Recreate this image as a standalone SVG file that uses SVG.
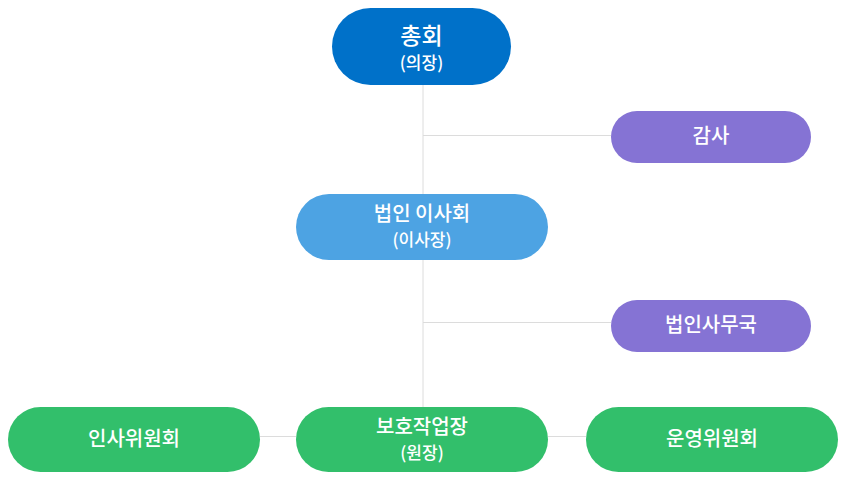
<svg xmlns="http://www.w3.org/2000/svg" width="847" height="489" viewBox="0 0 847 489">
<style>
.ln{stroke:#DCDCDC;stroke-width:1;fill:none}
text{font-family:"Noto Sans CJK KR","Noto Sans",sans-serif;fill:#fff;text-anchor:middle;font-weight:500}
.t{font-size:20px}
.s{font-size:17px}
.blue{fill:#0071C9}
.lblue{fill:#4DA3E3}
.purple{fill:#8573D4}
.green{fill:#32BF6B}
</style>
<rect width="847" height="489" fill="#fff"/>
<g id="connectors">
<line class="ln" x1="423" y1="85" x2="423" y2="407"/>
<line class="ln" x1="423" y1="135.5" x2="611" y2="135.5"/>
<line class="ln" x1="423" y1="322.5" x2="611" y2="322.5"/>
<line class="ln" x1="260" y1="436.5" x2="296" y2="436.5"/>
<line class="ln" x1="548" y1="436.5" x2="586" y2="436.5"/>
</g>
<g id="general">
<rect class="blue" x="332" y="8" width="179" height="77" rx="38.5"/>
<text x="421.5" y="43.5" style="font-size:23px">총회</text>
<text x="421.5" y="68.5" class="s">(의장)</text>
</g>
<g id="audit">
<rect class="purple" x="611" y="111" width="200" height="52" rx="26"/>
<text x="711" y="143" class="t">감사</text>
</g>
<g id="board">
<rect class="lblue" x="296" y="194" width="252" height="66" rx="33"/>
<text x="422" y="221" class="t">법인 이사회</text>
<text x="422" y="246" class="s">(이사장)</text>
</g>
<g id="office">
<rect class="purple" x="611" y="300" width="200" height="52" rx="26"/>
<text x="711" y="332" class="t">법인사무국</text>
</g>
<g id="workshop">
<rect class="green" x="296" y="407" width="252" height="65" rx="32.5"/>
<text x="422" y="434" class="t">보호작업장</text>
<text x="422" y="459" class="s">(원장)</text>
</g>
<g id="hr">
<rect class="green" x="8" y="407" width="252" height="65" rx="32.5"/>
<text x="134" y="446" class="t">인사위원회</text>
</g>
<g id="ops">
<rect class="green" x="586" y="407" width="252" height="65" rx="32.5"/>
<text x="712" y="446" class="t">운영위원회</text>
</g>
</svg>
